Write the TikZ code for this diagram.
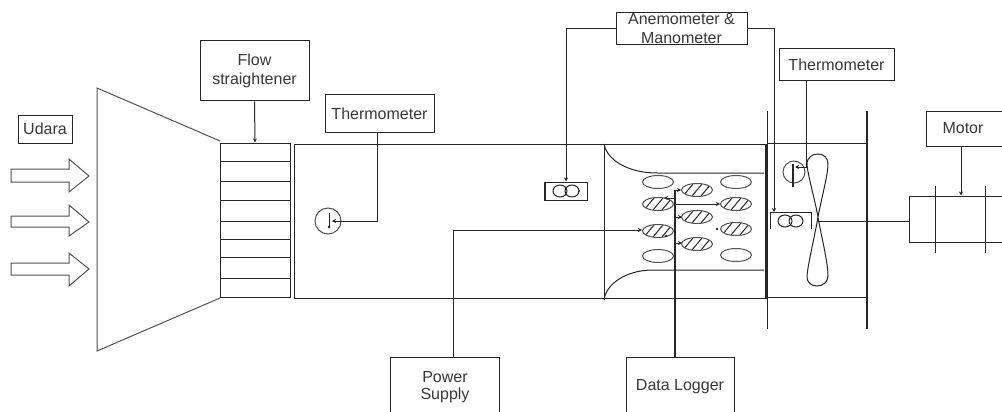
\documentclass[tikz,border=0pt]{standalone}
\usepackage{fontspec}
\setmainfont{Liberation Sans}
\usetikzlibrary{arrows.meta,shapes.geometric,calc}
\definecolor{ink}{HTML}{262626}
\tikzset{
  ln/.style={draw=ink,line width=1pt},
  thick ln/.style={draw=ink,line width=2pt},
  soft/.style={draw=ink!80,line width=1pt},
  wire/.style={ln,-{Stealth[length=4pt,width=4pt]}},
  datawire/.style={ln,-{Stealth[length=4pt,width=4pt]}},
  labeltext/.style={text=black!78,align=center,font=\fontsize{16}{17}\selectfont},
  box/.style={rectangle,ln,fill=white,inner sep=0pt,labeltext},
  emptyell/.style={ellipse,soft,inner sep=0pt,minimum width=31pt,minimum height=13pt},
  hatchell/.style={emptyell,path picture={
    \foreach \d in {-9,0,9}{
      \draw[ink,line width=1pt] ($(path picture bounding box.center)+(\d-5,6)$) -- ++(10,-12);}
  }},
  sensorc/.style={ellipse,ln,inner sep=0pt,minimum width=14pt,minimum height=12pt},
  thermoc/.style={circle,soft,inner sep=0pt},
  arrowshape/.style={soft,fill=white}
}
\begin{document}
\begin{tikzpicture}[x=1pt,y=-1pt]
\useasboundingbox (0,0) rectangle (1002,412);
\fill[white] (0,0) rectangle (1002,412);
\clip (0,0) rectangle (1002,412);
% inlet arrows
\draw[arrowshape] (11,169) -- (69,169) -- (69,159) -- (89,176) -- (69,192) -- (69,182) -- (11,182) -- cycle;
\draw[arrowshape] (11,216) -- (69,216) -- (69,205) -- (89,222) -- (69,236) -- (69,227) -- (11,227) -- cycle;
\draw[arrowshape] (11,263) -- (69,263) -- (69,253) -- (89,269) -- (69,286) -- (69,275) -- (11,275) -- cycle;
\node[box,minimum width=54pt,minimum height=28pt] (udara) at (45,129) {Udara};
% bell mouth
\draw[soft] (220,141) -- (97,88) -- (97,351) -- (220,298);
% straightener
\node[box,minimum width=70pt,minimum height=154pt] (straight) at (255,220) {};
\foreach \y in {161,181,200,221,239,257,278}{\draw[ln] (straight.west |- 0,\y) -- (straight.east |- 0,\y);}
\node[box,minimum width=109pt,minimum height=60pt] (flow) at (254.5,71) {Flow\\[2pt]straightener};
\draw[wire] (flow.south) -- (straight.north);
% duct
\draw[ln] (294,144) rectangle (766,298);
\draw[thick ln] (766,144) -- (766,298);
\draw[ln] (767,111) -- (767,329);
\draw[ln] (767,143) -- (867,143);
\draw[ln] (767,297) -- (867,297);
\draw[thick ln] (867,111) -- (867,329);
% nozzle
\draw[ln] (604,144) -- (604,300);
\draw[ln] (604,144) .. controls (607,160) and (628,173) .. (657,173) -- (764,173);
\draw[ln] (604,300) .. controls (606,284) and (626,270) .. (653,270) -- (764,270);
% test-bank ellipses
\node[emptyell] (e1) at (658,182) {};
\node[emptyell] (e2) at (736,182) {};
\node[emptyell] (e3) at (658,256) {};
\node[emptyell] (e4) at (736,255) {};
\node[hatchell] (h1) at (697,190) {};
\node[hatchell] (h2) at (658,204) {};
\node[hatchell] (h3) at (736,204) {};
\node[hatchell] (h4) at (697,217) {};
\node[hatchell] (h5) at (658,231) {};
\node[hatchell] (h6) at (736,229) {};
\node[hatchell] (h7) at (697,244) {};
% thermometer 1
\node[thermoc,minimum size=26pt] (t1) at (328,221) {};
\draw[ln] (329,213) -- (329,227);
\fill[ink] (329,227) circle (1.5pt);
\node[box,minimum width=109pt,minimum height=37pt] (thermoA) at (379.5,113.5) {Thermometer};
\coordinate (thAout) at (377,132);
\coordinate (thAtip) at (332,221);
\draw[wire] (thAout) |- (thAtip);
% anemometer sensor 1
\node[box,minimum width=42pt,minimum height=18pt] (s1) at (566,191) {};
\draw[thick ln] (s1.north west) -- (s1.south west);
\node[sensorc] (s1a) at (560,191) {};
\node[sensorc] (s1b) at (572,191) {};
\fill[ink] (579,191) circle (1pt);
% anemometer
\node[box,minimum width=131pt,minimum height=32pt] (anemo) at (681.5,29) {\raisebox{1pt}{Anemometer \&}\\[1pt]Manometer};
\draw[wire] (anemo.west) -| (s1.north);
\coordinate (s2top) at (774,212);
\draw[wire] (anemo.east) -| (s2top);
% anemometer sensor 2
\draw[ln] (770,229) -- (770,212) -- (811,212) -- (811,229);
\node[sensorc] (s2a) at (785,221) {};
\node[sensorc] (s2b) at (796,221) {};
% thermometer 2
\node[box,minimum width=115pt,minimum height=32pt] (thermoB) at (836.5,65) {Thermometer};
\node[thermoc,minimum size=22pt] (t2) at (794,172) {};
\draw[thick ln] (793,164) -- (793,187);
\coordinate (thBout) at (806,81);
\coordinate (thBtip) at (795,167);
\draw[wire] (thBout) |- (thBtip);
% fan
\coordinate (hub) at (818,217);
\draw[ink,line width=1pt] (hub) .. controls (815,200) and (807,172) .. (807,164)
  .. controls (807,157) and (813,154) .. (818,154)
  .. controls (824,154) and (828,158) .. (828,164)
  .. controls (828,175) and (821,200) .. (818,217)
  .. controls (821,235) and (828,262) .. (828,276)
  .. controls (828,282) and (823,286) .. (817,286)
  .. controls (811,286) and (807,282) .. (807,277)
  .. controls (807,268) and (815,235) .. (818,217);
% motor
\node[box,minimum width=101pt,minimum height=46pt] (body) at (959.5,219) {};
\draw[ln] (935,186) -- (935,253);
\draw[ln] (985,186) -- (985,253);
\coordinate (shaft) at (818,221);
\draw[ln] (shaft) -- (shaft -| body.west);
\node[box,minimum width=84pt,minimum height=35pt] (motor) at (968,128.5) {};
\node[labeltext] (motorlabel) at (963,128) {Motor};
\coordinate (motout) at (961,146);
\draw[wire] (motout) -- (motout |- body.north);
% power supply
\node[box,minimum width=109pt,minimum height=70pt] (power) at (444.5,392) {};
\node[labeltext] (powerlabel) at (445,387) {Power\\Supply};
\coordinate (powin) at (453,357);
\coordinate (powtip) at (642,230);
\draw[wire] (powin) |- (powtip);
% data logger
\node[box,minimum width=108pt,minimum height=70pt] (logger) at (680,392) {};
\node[labeltext] (loggerlabel) at (680,387) {Data Logger};
\coordinate (trunktop) at (675,190);
\coordinate (trunkbot) at (675,357);
\draw[thick ln] (trunktop) -- (trunkbot);
\coordinate (b1) at (675,190);
\coordinate (b2) at (675,198);
\coordinate (b3) at (675,204);
\coordinate (b4) at (675,217);
\coordinate (b5) at (675,243);
\draw[datawire] (b1) -- (681,190);
\draw[datawire] (b2) -- (664,198);
\draw[datawire] (b3) -- (720,204);
\draw[datawire] (b4) -- (682,217);
\draw[datawire] (b5) -- (682,243);
\fill[ink] (666,236) circle (1.3pt);
\fill[ink] (717,229) circle (1.3pt);
\end{tikzpicture}
\end{document}
